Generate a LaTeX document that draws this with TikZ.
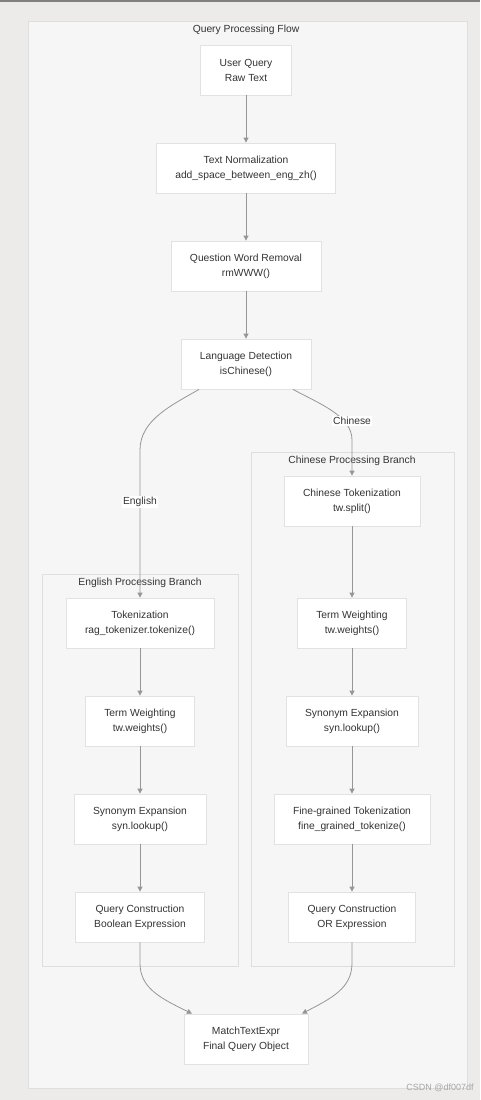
\documentclass[tikz,border=0pt]{standalone}
\usepackage{fontspec}
\setmainfont{Liberation Sans}
\usetikzlibrary{arrows.meta}
\definecolor{pagebg}{RGB}{236,235,233}
\definecolor{grpfill}{RGB}{246,246,246}
\definecolor{grpline}{RGB}{222,222,222}
\definecolor{boxline}{RGB}{226,226,226}
\definecolor{arrowgray}{RGB}{150,150,150}
\definecolor{textgray}{RGB}{51,51,51}
\begin{document}
\begin{tikzpicture}
		[x=1pt,y=-1pt,font=\fontsize{10.3}{15}\selectfont,
		 box/.style={draw=boxline,fill=white,text=textgray,minimum height=50pt,inner xsep=19pt,align=center,line width=0.8pt},
		 flow/.style={draw=arrowgray,line width=0.8pt,-{Triangle[length=5pt,width=5pt]}},
		 lbl/.style={fill=white,text=textgray,inner sep=1.5pt},
		 grp/.style={draw=grpline,fill=grpfill,line width=0.8pt},
		 title/.style={text=textgray}] % pixel grid, y runs downwards
		
		\fill[pagebg] (0,0) rectangle (480,1100);
		\useasboundingbox (0,0) rectangle (480,1100);
		\draw[gray,line width=1.5pt] (0,0.75) -- (480,0.75);
		
		% frames
		\draw[grp] (28,21) rectangle (467,1088);
		\draw[grp] (251,452) rectangle (454,966);
		\draw[grp] (42,574) rectangle (238,966);
		\node[title] (tmain) at (246,29.5) {Query Processing Flow};
		\node[title] (tzh) at (352,460.5) {Chinese Processing Branch};
		\node[title] (ten) at (140,582.5) {English Processing Branch};
		
		\node[box] (uq) at (246,70) {User Query\\Raw Text};
		\node[box] (norm) at (246,168) {Text Normalization\\add\_space\_between\_eng\_zh()};
		\node[box] (rmw) at (246,266) {Question Word Removal\\rmWWW()};
		\node[box] (lang) at (246,364) {Language Detection\\isChinese()};
		
		\node[box] (etok) at (140,623) {Tokenization\\rag\_tokenizer.tokenize()};
		\node[box] (ew) at (140,721) {Term Weighting\\tw.weights()};
		\node[box] (esyn) at (140,819) {Synonym Expansion\\syn.lookup()};
		\node[box] (eqc) at (140,917) {Query Construction\\Boolean Expression};
		
		\node[box] (ctok) at (352,501) {Chinese Tokenization\\tw.split()};
		\node[box] (cw) at (352,623) {Term Weighting\\tw.weights()};
		\node[box] (csyn) at (352,721) {Synonym Expansion\\syn.lookup()};
		\node[box] (cfine) at (352,819) {Fine-grained Tokenization\\fine\_grained\_tokenize()};
		\node[box] (cqc) at (352,917) {Query Construction\\OR Expression};
		
		\node[box] (match) at (246,1039) {MatchTextExpr\\Final Query Object};
		
		\draw[flow] (uq) -- (norm);
		\draw[flow] (norm) -- (rmw);
		\draw[flow] (rmw) -- (lang);
		\draw[flow] ([xshift=-47pt]lang.south) .. controls (172,405) and (140,420) .. (140,450) -- (etok.north);
		\draw[flow] ([xshift=47pt]lang.south) .. controls (320,404) and (352,416) .. (352,440) -- (ctok.north);
		\draw[flow] (etok) -- (ew);
		\draw[flow] (ew) -- (esyn);
		\draw[flow] (esyn) -- (eqc);
		\draw[flow] (ctok) -- (cw);
		\draw[flow] (cw) -- (csyn);
		\draw[flow] (csyn) -- (cfine);
		\draw[flow] (cfine) -- (cqc);
		\draw[flow] (eqc.south) -- (140,963) .. controls (140,988) and (160,998) .. ([xshift=-54pt]match.north);
		\draw[flow] (cqc.south) -- (352,963) .. controls (352,988) and (332,998) .. ([xshift=56pt]match.north);
		
		\node[lbl] (lzh) at (352,421) {Chinese};
		\node[lbl] (len) at (140,502) {English};
		
		\node[text=black!35,font=\fontsize{9}{10}\selectfont] (wm) at (440,1088) {CSDN @df007df};
		
	\end{tikzpicture}
\end{document}
